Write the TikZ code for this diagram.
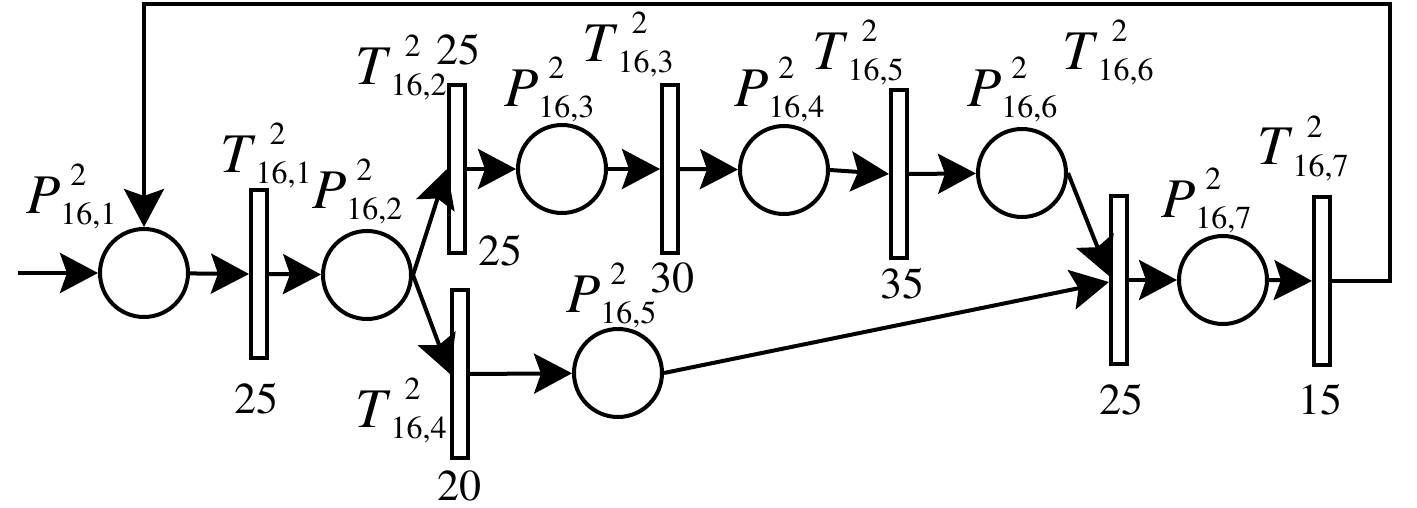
\documentclass[tikz,border=0pt]{standalone}
\usepackage[T1]{fontenc}
\usepackage{times}
\usetikzlibrary{arrows.meta}
\newcommand\bigfs{\fontsize{56}{60}\selectfont}
\newcommand\numfs{\fontsize{44}{48}\selectfont}
\newcommand\scrfs{\fontsize{32}{34}\selectfont}
\newcommand\pnlab[3]{\bigfs\textit{#1}\raisebox{-11pt}{\scrfs\rlap{\raisebox{39pt}{\kern#3pt 2}}#2}}
\begin{document}
\begin{tikzpicture}[x=1pt,y=-1pt,
  place/.style={circle,draw,line width=4pt,minimum size=88pt,inner sep=0pt},
  trans/.style={rectangle,draw,fill=white,line width=4pt,minimum width=16pt,minimum height=168pt,inner sep=0pt},
  arc/.style={line width=4pt,-{Stealth[length=38pt,width=40pt,inset=7pt]}},
  lab/.style={anchor=base west,inner sep=0pt},
  num/.style={anchor=base,inner sep=0pt,font=\numfs}]
\useasboundingbox (0,0) rectangle (1417,508);
% places
\node[place] (P1) at (144,273) {};
\node[place] (P2) at (367,275) {};
\node[place] (P3) at (562,169) {};
\node[place] (P4) at (784,170) {};
\node[place] (P5) at (618,373) {};
\node[place] (P6) at (1022,173) {};
\node[place] (P7) at (1223,280) {};
% transitions
\node[trans] (T1) at (259,274) {};
\node[trans] (T2) at (457,169) {};
\node[trans] (T3) at (670,169) {};
\node[trans] (T4) at (460,374) {};
\node[trans] (T5) at (899,174) {};
\node[trans] (T6) at (1119,280) {};
\node[trans] (T7) at (1322,281) {};
% helper coordinates
\coordinate (in) at (18,273);
\coordinate (c1) at (1390,4.5);
\coordinate (c2) at (144,4.5);
% arcs
\draw[arc] (in) -- (P1.west);
\draw[arc] (P1) -- (T1.west);
\draw[arc] (T1.east) -- (P2);
\draw[arc] (P2.east) -- (T2.west);
\draw[arc] (P2.east) -- (T4.west);
\draw[arc] (T2.east) -- (P3);
\draw[arc] (P3.east) -- (T3.west);
\draw[arc] (T3.east) -- (P4);
\draw[arc] (P4.east) -- (T5.west);
\draw[arc] (T5.east) -- (P6);
\draw[arc] (P6.east) -- ([yshift=4pt]T6.west);
\draw[arc] (T4.east) -- (P5);
\draw[arc] (P5.east) -- ([yshift=-2pt]T6.west);
\draw[arc] (T6.east) -- (P7);
\draw[arc] (P7.east) -- (T7.west);
\draw[arc] (T7.east) -| (c1) -- (c2) -- (P1.north);
% labels
\node[lab] (LP1) at (26,213) {\pnlab{P}{16,1}{10}};
\node[lab] (LP2) at (312,208) {\pnlab{P}{16,2}{10}};
\node[lab] (LP3) at (504,107) {\pnlab{P}{16,3}{10}};
\node[lab] (LP4) at (734,107) {\pnlab{P}{16,4}{10}};
\node[lab] (LP5) at (566,312) {\pnlab{P}{16,5}{10}};
\node[lab] (LP6) at (967,107) {\pnlab{P}{16,6}{10}};
\node[lab] (LP7) at (1161,217) {\pnlab{P}{16,7}{10}};
\node[lab] (LT1) at (220,172) {\pnlab{T}{16,1}{14}};
\node[lab] (LT2) at (355,85) {\pnlab{T}{16,2}{14}};
\node[lab] (LT3) at (582,62) {\pnlab{T}{16,3}{14}};
\node[lab] (LT4) at (355,427) {\pnlab{T}{16,4}{14}};
\node[lab] (LT5) at (812,70) {\pnlab{T}{16,5}{14}};
\node[lab] (LT6) at (1062,70) {\pnlab{T}{16,6}{14}};
\node[lab] (LT7) at (1257,165) {\pnlab{T}{16,7}{14}};
% numbers
\node[num] (N2a) at (458.5,65) {25};
\node[num] (N2b) at (500,265) {25};
\node[num] (N3) at (672.5,292) {30};
\node[num] (N5) at (902,298) {35};
\node[num] (N1) at (256,413) {25};
\node[num] (N4) at (459,500) {20};
\node[num] (N6) at (1121,414) {25};
\node[num] (N7) at (1320,414) {15};
\end{tikzpicture}
\end{document}
